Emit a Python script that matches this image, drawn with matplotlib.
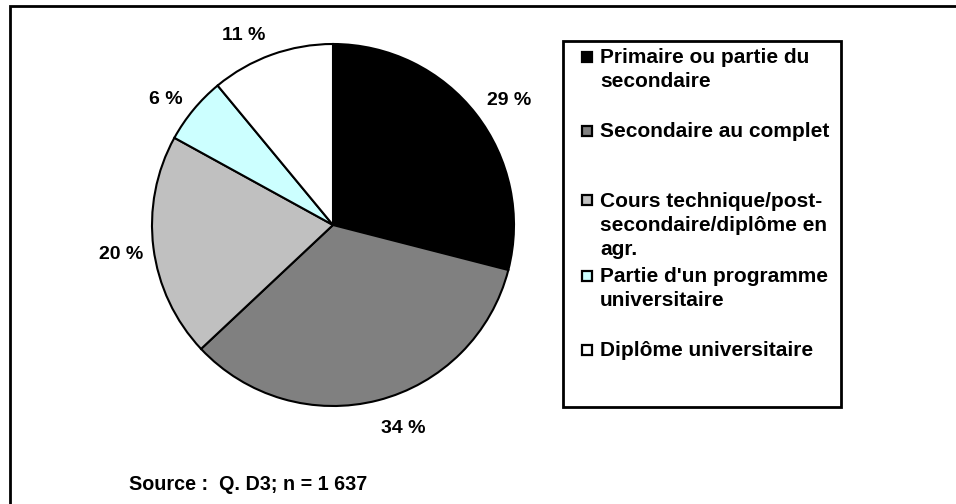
import matplotlib
matplotlib.use("Agg")
import matplotlib.pyplot as plt
from matplotlib.patches import Rectangle
from matplotlib.lines import Line2D

plt.rcParams['font.family'] = ['Liberation Sans', 'DejaVu Sans']
plt.rcParams['font.weight'] = 'bold'

categories = [
    "Primaire ou partie du\nsecondaire",
    "Secondaire au complet",
    "Cours technique/post-\nsecondaire/diplôme en\nagr.",
    "Partie d'un programme\nuniversitaire",
    "Diplôme universitaire",
]
values = [29, 34, 20, 6, 11]
value_labels = ["29 %", "34 %", "20 %", "6 %", "11 %"]
source_text = "Source :  Q. D3; n = 1 637"

colors = ["#000000", "#808080", "#C0C0C0", "#CCFFFF", "#FFFFFF"]
# per-label nudges in pixels (right, down), layout only
label_nudges = [(7, 6), (17, -3), (0, 3), (-3, 11), (-17, 11)]

W, H = 956, 504
fig = plt.figure(figsize=(W / 100, H / 100), dpi=100)
fig.patch.set_facecolor("white")

def fx(px):
    return px / W

def fy(py):
    return 1 - py / H

# outer frame (extends beyond right/bottom edges)
fig.patches.append(Rectangle((fx(10), fy(1100)), 2.0, fy(5.5) - fy(1100),
                             transform=fig.transFigure, fill=False,
                             edgecolor="black", linewidth=2.0, clip_on=False))

# pie
cx, cy, r = 333, 225, 181
ax = fig.add_axes([fx(cx - r), fy(cy + r), 2 * r / W, 2 * r / H])
wedges, texts = ax.pie(values, colors=colors, startangle=90, counterclock=False,
                       labels=value_labels, labeldistance=1.18,
                       wedgeprops=dict(edgecolor="black", linewidth=1.5),
                       textprops=dict(fontsize=14, fontweight="bold"))
for t, (dx, dy) in zip(texts, label_nudges):
    x, y = t.get_position()
    t.set_position((x + dx / r, y - dy / r))
    t.set_ha("center")
    t.set_va("center")
ax.set_xlim(-1, 1)
ax.set_ylim(-1, 1)
ax.set_aspect("auto")
ax.axis("off")

# legend box
lx0, ly0, lx1, ly1 = 563, 41, 841, 407
fig.patches.append(Rectangle((fx(lx0), fy(ly1)), fx(lx1) - fx(lx0), fy(ly0) - fy(ly1),
                             transform=fig.transFigure, fill=False,
                             edgecolor="black", linewidth=2.0))

entry_baselines = [63, 137, 207, 282, 356]
line_step = 24
for label, col, yb in zip(categories, colors, entry_baselines):
    fig.add_artist(Line2D([fx(587)], [fy(yb - 6.5)], marker="s", markersize=7.5,
                          markerfacecolor=col, markeredgecolor="black",
                          markeredgewidth=1.6, linestyle="none",
                          transform=fig.transFigure))
    for i, line in enumerate(label.split("\n")):
        fig.text(fx(600), fy(yb + i * line_step), line, fontsize=15,
                 fontweight="bold", ha="left", va="baseline")

fig.text(fx(129), fy(485), source_text, fontsize=14.2, fontweight="bold",
         ha="left", va="center")

fig.savefig("out.png", dpi=100)
